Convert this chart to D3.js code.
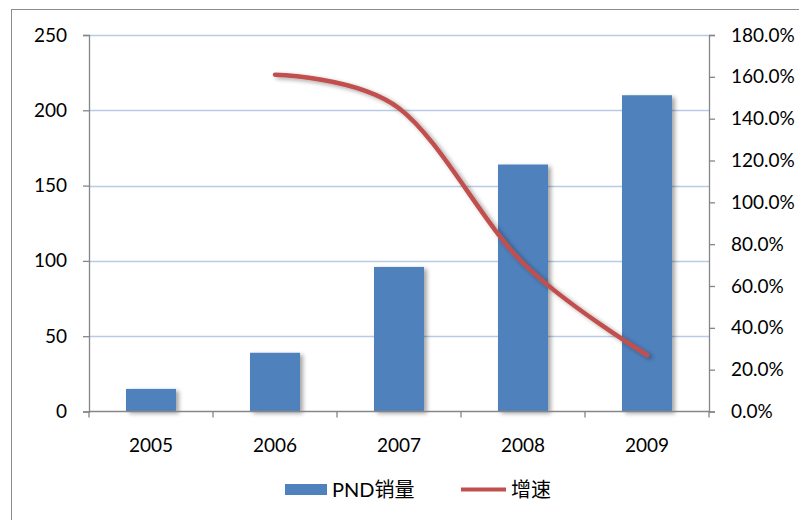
<!DOCTYPE html>
<html><head><meta charset="utf-8">
<script src="https://cdn.jsdelivr.net/npm/d3@7"></script>
<style>body{margin:0;background:#fff}svg{display:block}</style>
</head><body><svg id="c" width="799" height="520"></svg>
<script>
const years = ["2005","2006","2007","2008","2009"];
const sales = [15, 39, 96, 164, 210];
const growthYears = ["2006","2007","2008","2009"];
const growth = [1.61, 1.45, 0.71, 0.27];
const leftTicks = [0, 50, 100, 150, 200, 250];
const rightTicks = [0, 0.2, 0.4, 0.6, 0.8, 1.0, 1.2, 1.4, 1.6, 1.8];
const seriesNames = ["PND销量", "增速"];

const svg = d3.select("#c");
const font = "Lato, 'Noto Sans CJK SC', sans-serif";
const defs = svg.append("defs");
const f = defs.append("filter").attr("id","sh").attr("x","-20%").attr("y","-20%").attr("width","150%").attr("height","150%");
f.append("feDropShadow").attr("dx",3).attr("dy",2).attr("stdDeviation",2).attr("flood-color","#000").attr("flood-opacity",0.35);

// outer frame
svg.append("rect").attr("x",11.5).attr("y",9.5).attr("width",820).attr("height",540)
  .attr("fill","none").attr("stroke","#8c8c8c").attr("stroke-width",1);

const L = 89, R = 709, T = 35, B = 411.5;
const xb = d3.scaleBand().domain(years).range([L, R]);
const yL = d3.scaleLinear().domain([0, 250]).range([B, T]);
const yR = d3.scaleLinear().domain([0, 1.8]).range([B, T]);

// gridlines
svg.append("g").selectAll("line").data(leftTicks.slice(1)).join("line")
  .attr("x1", L).attr("x2", R).attr("y1", d => Math.round(yL(d))+0.5).attr("y2", d => Math.round(yL(d))+0.5)
  .attr("stroke","#b9cbe6").attr("stroke-width",1.3);

// bars
svg.append("g").attr("filter","url(#sh)").selectAll("rect").data(sales).join("rect")
  .attr("x",(d,i)=>xb(years[i]) + xb.bandwidth()/2 - 25).attr("width",50)
  .attr("y", d=>yL(d)).attr("height", d=>B - yL(d))
  .attr("fill","#4f81bd");

// axes
const axisColor = "#868686";
const gl = svg.append("g").attr("transform",`translate(${L},0)`)
  .call(d3.axisLeft(yL).tickValues(leftTicks).tickSize(6).tickPadding(16));
const gr = svg.append("g").attr("transform",`translate(${R},0)`)
  .call(d3.axisRight(yR).tickValues(rightTicks).tickSize(6).tickPadding(16).tickFormat(d=>(d*100).toFixed(1)+"%"));
const gx = svg.append("g").attr("transform",`translate(0,${B})`)
  .call(d3.axisBottom(xb).tickSize(0).tickPadding(27));
gx.append("g").selectAll("line").data(years.concat(["end"])).join("line")
  .attr("x1",(d,i)=> i<years.length ? xb(d) : R).attr("x2",(d,i)=> i<years.length ? xb(d) : R)
  .attr("y1",0).attr("y2",6).attr("stroke",axisColor).attr("stroke-width",1.3);
[gl,gr,gx].forEach(g=>{
  g.select(".domain").attr("stroke",axisColor).attr("stroke-width",1.3);
  g.selectAll(".tick line").attr("stroke",axisColor).attr("stroke-width",1.3);
  g.selectAll("text").attr("font-family",font).attr("font-size",19).attr("fill","#000");
});
gx.select(".domain").attr("d",`M${L},0H${R}`);

// line
const line = d3.line().x((d,i)=>xb(growthYears[i]) + xb.bandwidth()/2).y(d=>yR(d)).curve(d3.curveCardinal.tension(0));
svg.append("path").datum(growth).attr("d",line).attr("fill","none")
  .attr("stroke","#c0504d").attr("stroke-width",4.5).attr("stroke-linecap","round").attr("filter","url(#sh)");

// legend
const lg = svg.append("g");
lg.append("rect").attr("x",285).attr("y",484).attr("width",42).attr("height",11).attr("fill","#4f81bd");
lg.append("text").attr("x",332).attr("y",497).text(seriesNames[0]).attr("font-family",font).attr("font-size",20);
lg.append("line").attr("x1",461).attr("x2",506).attr("y1",489.5).attr("y2",489.5).attr("stroke","#c0504d").attr("stroke-width",4);
lg.append("text").attr("x",511).attr("y",497).text(seriesNames[1]).attr("font-family",font).attr("font-size",20);
</script></body></html>
